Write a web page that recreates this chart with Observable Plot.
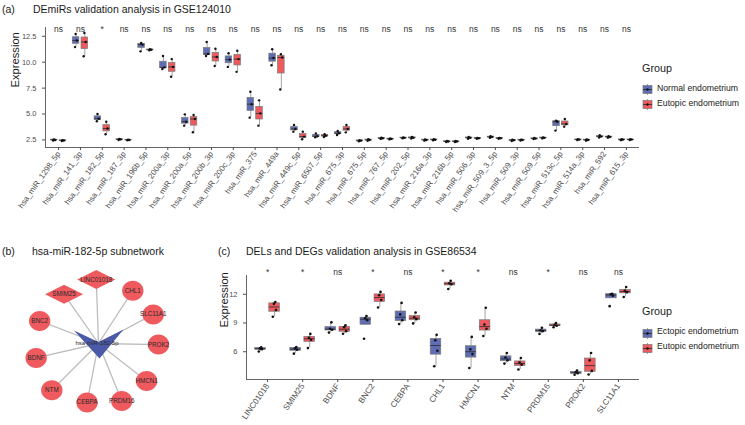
<!DOCTYPE html>
<html><head><meta charset="utf-8">
<script src="https://cdn.jsdelivr.net/npm/d3@7"></script>
<script src="https://cdn.jsdelivr.net/npm/@observablehq/plot@0.6"></script>
<style>
body{margin:0;background:#fff;font-family:"Liberation Sans",Arial,sans-serif;}
#root{position:relative;width:745px;height:425px;overflow:hidden;background:#fff;}
.abs{position:absolute;white-space:nowrap;line-height:1;}
.ttl{font-size:10.5px;color:#1a1a1a;}
.lgt{font-size:10.8px;color:#1a1a1a;}
.lgl{font-size:8.7px;color:#1a1a1a;}
</style></head><body><div id="root"></div>
<script>
// ---------- Panel (a) data ----------
const mirNames = ["hsa_miR_1298_5p","hsa_miR_141_3p","hsa_miR_182_5p","hsa_miR_187_3p","hsa_miR_196b_5p","hsa_miR_200a_3p","hsa_miR_200a_5p","hsa_miR_200b_3p","hsa_miR_200c_3p","hsa_miR_375","hsa_miR_449a","hsa_miR_449c_5p","hsa_miR_6507_5p","hsa_miR_675_3p","hsa_miR_675_5p","hsa_miR_767_5p","hsa_miR_202_5p","hsa_miR_216a_3p","hsa_miR_216b_5p","hsa_miR_506_3p","hsa_miR_509_3_5p","hsa_miR_509_3p","hsa_miR_509_5p","hsa_miR_513c_5p","hsa_miR_514a_3p","hsa_miR_592","hsa_miR_615_3p"];
const mirNormal = [[2.45,2.5,2.55],[11.46,12.1,12.72],[4.3,4.55,5.0],[2.5,2.55,2.6],[11.05,11.7,11.85],[9.35,9.5,10.6],[3.88,4.26,4.97],[10.6,10.8,11.95],[9.55,10.25,10.87],[4.65,5.95,7.15],[9.71,10.4,11.25],[3.3,3.55,3.95],[2.75,2.85,3.12],[2.98,3.14,3.36],[2.38,2.43,2.48],[2.6,2.66,2.72],[2.66,2.7,2.74],[2.43,2.5,2.55],[2.3,2.35,2.4],[2.62,2.7,2.78],[2.7,2.78,2.85],[2.4,2.47,2.52],[2.58,2.63,2.68],[3.4,4.26,4.36],[2.5,2.53,2.56],[2.74,2.82,2.95],[2.48,2.53,2.57]];
const mirEutopic = [[2.4,2.45,2.48],[10.58,11.95,12.82],[3.05,3.6,4.25],[2.47,2.5,2.53],[11.15,11.2,11.25],[8.6,9.55,10.3],[3.24,4.52,4.9],[9.64,10.5,11.3],[9.07,10.3,11.1],[3.88,5.06,6.32],[7.37,10.45,10.77],[2.57,2.82,3.3],[2.78,2.9,3.05],[3.23,3.56,3.94],[2.42,2.5,2.56],[2.55,2.6,2.64],[2.63,2.7,2.8],[2.46,2.52,2.56],[2.3,2.35,2.4],[2.62,2.66,2.7],[2.62,2.66,2.7],[2.45,2.5,2.53],[2.65,2.7,2.75],[3.78,4.04,4.52],[2.43,2.5,2.55],[2.72,2.79,2.85],[2.5,2.53,2.56]];
const mirSig = ["ns","ns","*","ns","ns","ns","ns","ns","ns","ns","ns","ns","ns","ns","ns","ns","ns","ns","ns","ns","ns","ns","ns","ns","ns","ns","ns"];
const groupsA = ["Normal endometrium","Eutopic endometrium"];
const yTicksA = [2.5,5,7.5,10,12.5];

// ---------- Panel (c) data ----------
const geneNames = ["LINC01018","SMIM25","BDNF","BNC2","CEBPA","CHL1","HMCN1","NTM","PRDM16","PROK2","SLC11A1"];
const geneEctopic = [[6.03,6.27,6.35,6.45],[5.8,6.2,6.35,6.5],[8.0,8.3,8.4,9.07],[7.35,9.3,9.5,9.72],[8.9,9.3,9.9,11.1],[4.48,6.1,7.2,7.76],[4.3,5.75,6.25,7.55],[4.76,5.1,5.4,5.86],[7.86,8.15,8.25,8.5],[3.59,3.75,3.85,4.03],[10.76,11.85,12.0,12.05]];
const geneEutopic = [[9.65,10.35,11.0,11.2],[6.38,7.25,7.45,7.86],[7.88,8.15,8.55,8.75],[10.62,11.4,11.9,12.25],[8.96,9.4,9.6,10.1],[12.55,13.05,13.15,13.4],[7.65,8.4,8.85,10.6],[4.14,4.65,4.87,5.34],[8.55,8.72,8.8,9.0],[3.62,4.0,5.1,5.86],[11.72,12.22,12.35,12.76]];
const geneSig = ["*","*","ns","*","ns","*","*","ns","*","ns","ns"];
const groupsC = ["Ectopic endometrium","Eutopic endometrium"];
const yTicksC = [6,9,12];

// ---------- Panel (b) network data ----------
const hubName = "hsa-miR-182-5p";
const netNodes = ["LINC01018","SMIM25","CHL1","SLC11A1","PROK2","HMCN1","PRDM16","CEBPA","NTM","BDNF","BNC2"];
const netType = ["lncRNA","lncRNA","gene","gene","gene","gene","gene","gene","gene","gene","gene"];
const netAngle = [92,125,57,28,-1,-38,-68,-101,-135,-167,159];
const netRadius = [64,60,63,62,60,61,62,60,66,64,63];

// ---------- style ----------
const BLUE = "#5e6db4", RED = "#ef5a5f";
const FONT = "Liberation Sans, Arial, sans-serif";
const root = document.getElementById("root");

function boxStats(vals){
  const s = vals.slice().sort(d3.ascending);
  const q1 = d3.quantileSorted(s,0.25), med = d3.quantileSorted(s,0.5), q3 = d3.quantileSorted(s,0.75);
  const iqr = q3 - q1;
  const lo = d3.min(s.filter(v => v >= q1 - 1.5*iqr));
  const hi = d3.max(s.filter(v => v <= q3 + 1.5*iqr));
  return {q1, med, q3, lo, hi};
}
const jit = [-0.05, 0.04, -0.02, 0.02];
function buildRows(names, g0, g1, groups){
  const boxes = [], pts = [];
  names.forEach((n,i) => {
    [g0[i], g1[i]].forEach((vals,g) => {
      const cx = i + (g ? 0.2 : -0.2);
      const st = boxStats(vals);
      boxes.push({x: cx, xl: cx-0.15, xr: cx+0.15, group: groups[g], ...st});
      vals.forEach((v,j) => pts.push({x: cx + jit[j % jit.length], v, group: groups[g]}));
    });
  });
  return {boxes, pts};
}

function boxPanel({names, g0, g1, groups, sig, yDomain, yTicks, tickFmt, width, height, mt, mb, ml, mr, xFont, yLabelDx, sigDy, dotR}){
  const {boxes, pts} = buildRows(names, g0, g1, groups);
  const n = names.length;
  return Plot.plot({
    width, height, marginTop: mt, marginBottom: mb, marginLeft: ml, marginRight: mr,
    style: {fontFamily: FONT, background: "transparent", overflow: "visible"},
    x: {domain: [-0.6, n - 0.4]},
    y: {domain: yDomain},
    color: {domain: groups, range: [BLUE, RED]},
    marks: [
      Plot.ruleX(boxes, {x: "x", y1: "lo", y2: "q1", stroke: "#8a8a8a", strokeWidth: 0.8}),
      Plot.ruleX(boxes, {x: "x", y1: "q3", y2: "hi", stroke: "#8a8a8a", strokeWidth: 0.8}),
      Plot.rect(boxes, {x1: "xl", x2: "xr", y1: "q1", y2: "q3", fill: "group", stroke: "#7a7a7a", strokeWidth: 0.7}),
      Plot.ruleY(boxes, {y: "med", x1: "xl", x2: "xr", stroke: "#2a2a2a", strokeWidth: 0.8}),
      Plot.dot(pts, {x: "x", y: "v", r: dotR, fill: "#111", stroke: "none"}),
      Plot.ruleX([-0.6], {stroke: "#555", strokeWidth: 0.9}),
      Plot.ruleY([yDomain[0]], {stroke: "#555", strokeWidth: 0.9}),
      Plot.axisY({ticks: yTicks, tickFormat: tickFmt, tickSize: 3, fontSize: 7.5, color: "#4d4d4d", label: null}),
      Plot.axisX({ticks: d3.range(n), tickFormat: i => names[i], tickRotate: -55, tickSize: 3, tickPadding: 2, fontSize: xFont, color: "#4d4d4d", label: null}),
      Plot.text(d3.range(n), {x: i => i, text: i => sig[i], frameAnchor: "top", dy: sigDy, fontSize: 8.5, fill: "#333"}),
      Plot.text(["Expression"], {frameAnchor: "left", rotate: -90, dx: yLabelDx, fontSize: 11.2, fill: "#1a1a1a"})
    ]
  });
}

function place(el, left, top){
  const d = document.createElement("div");
  d.className = "abs"; d.style.left = left + "px"; d.style.top = top + "px";
  d.appendChild(el); root.appendChild(d); return d;
}
function label(text, cls, left, top){
  const d = document.createElement("div");
  d.className = "abs " + cls; d.style.left = left + "px"; d.style.top = top + "px";
  d.textContent = text; root.appendChild(d); return d;
}
function legend(left, top, groups){
  label("Group", "lgt", left, top);
  groups.forEach((g,k) => {
    const y = top + 19.5 + k*15;
    const ns = "http://www.w3.org/2000/svg";
    const s = document.createElementNS(ns, "svg");
    s.setAttribute("width", 11); s.setAttribute("height", 11);
    s.innerHTML = `<line x1="5.5" x2="5.5" y1="0" y2="11" stroke="#8a8a8a" stroke-width="0.8"/>`+
      `<rect x="1" y="1.5" width="9" height="8" fill="${k ? RED : BLUE}" stroke="#7a7a7a" stroke-width="0.7"/>`+
      `<line x1="1" x2="10" y1="5.5" y2="5.5" stroke="#2a2a2a" stroke-width="0.8"/>`+
      `<circle cx="5.5" cy="5.5" r="1.2" fill="#111"/>`;
    const d = document.createElement("div");
    d.className = "abs"; d.style.left = left + "px"; d.style.top = y + "px"; d.style.width="11px"; d.style.height="11px";
    d.appendChild(s); root.appendChild(d);
    label(g, "lgl", left + 15, y + 1.5);
  });
}

// ---------- Panel (a) ----------
label("(a)", "ttl", 2, 4);
label("DEmiRs validation analysis in GSE124010", "ttl", 33, 4);
place(boxPanel({names: mirNames, g0: mirNormal, g1: mirEutopic, groups: groupsA, sig: mirSig,
  yDomain: [1.77, 13.35], yTicks: yTicksA, tickFmt: d => d.toFixed(1),
  width: 645, height: 215, mt: 27, mb: 68, ml: 45, mr: 6, xFont: 8, yLabelDx: -30, sigDy: -1.5, dotR: 1.2}), 0, 0);
legend(642, 62.5, groupsA);

// ---------- Panel (c) ----------
label("(c)", "ttl", 218, 246);
label("DELs and DEGs validation analysis in GSE86534", "ttl", 246, 246);
place(boxPanel({names: geneNames, g0: geneEctopic, g1: geneEutopic, groups: groupsC, sig: geneSig,
  yDomain: [3.1, 13.96], yTicks: yTicksC, tickFmt: d => String(d),
  width: 445, height: 170, mt: 20, mb: 46, ml: 46, mr: 6, xFont: 8.2, yLabelDx: -22, sigDy: -7, dotR: 1.3}), 200, 255);
legend(642, 306, groupsC);

// ---------- Panel (b) network ----------
label("(b)", "ttl", 2, 246);
label("hsa-miR-182-5p subnetwork", "ttl", 32, 246);
const nodes = netNodes.map((name,i) => {
  const a = netAngle[i] * Math.PI / 180;
  return {name, type: netType[i], x: netRadius[i]*Math.cos(a), y: netRadius[i]*Math.sin(a)};
});
const ellipseSym = {draw(ctx, size){
  const r = Math.sqrt(size/Math.PI), rx = 1.07*r, ry = 1.0*r, k = 0.5523;
  ctx.moveTo(rx,0);
  ctx.bezierCurveTo(rx, k*ry, k*rx, ry, 0, ry);
  ctx.bezierCurveTo(-k*rx, ry, -rx, k*ry, -rx, 0);
  ctx.bezierCurveTo(-rx, -k*ry, -k*rx, -ry, 0, -ry);
  ctx.bezierCurveTo(k*rx, -ry, rx, -k*ry, rx, 0);
  ctx.closePath();
}};
const diamondSym = {draw(ctx, size){
  const r = Math.sqrt(size/Math.PI), w = 1.9*r, h = 0.95*r;
  ctx.moveTo(0,-h); ctx.lineTo(w,0); ctx.lineTo(0,h); ctx.lineTo(-w,0); ctx.closePath();
}};
const vSym = {draw(ctx, size){
  const s = Math.sqrt(size/Math.PI)/10;
  ctx.moveTo(-24.5*s,-13*s); ctx.lineTo(0,-1.5*s); ctx.lineTo(25*s,-14*s); ctx.lineTo(1*s,15*s); ctx.closePath();
}};
const net = Plot.plot({
  width: 200, height: 170, margin: 0,
  style: {fontFamily: FONT, background: "transparent", overflow: "visible"},
  x: {domain: [-98, 102], axis: null},
  y: {domain: [-82, 88], axis: null},
  marks: [
    Plot.link(nodes, {x1: () => 0, y1: () => 0, x2: "x", y2: "y", stroke: "#bdbdbd", strokeWidth: 1.3}),
    Plot.dot(nodes.filter(d => d.type === "gene"), {x: "x", y: "y", r: 10, symbol: ellipseSym, fill: RED, stroke: "none"}),
    Plot.dot(nodes.filter(d => d.type === "lncRNA"), {x: "x", y: "y", r: 10, symbol: diamondSym, fill: RED, stroke: "none"}),
    Plot.dot([hubName], {x: () => 0, y: () => 0, r: 10, symbol: vSym, fill: "#4a5aa8", stroke: "none"}),
    Plot.text(nodes, {x: "x", y: "y", text: "name", fontSize: 6.3, fill: "#2a2a2a"}),
    Plot.text([hubName], {x: () => -1.5, y: () => 0, text: d => d, fontSize: 6, fill: "#2a2a2a"})
  ]
});
place(net, 0, 255);
</script></body></html>
